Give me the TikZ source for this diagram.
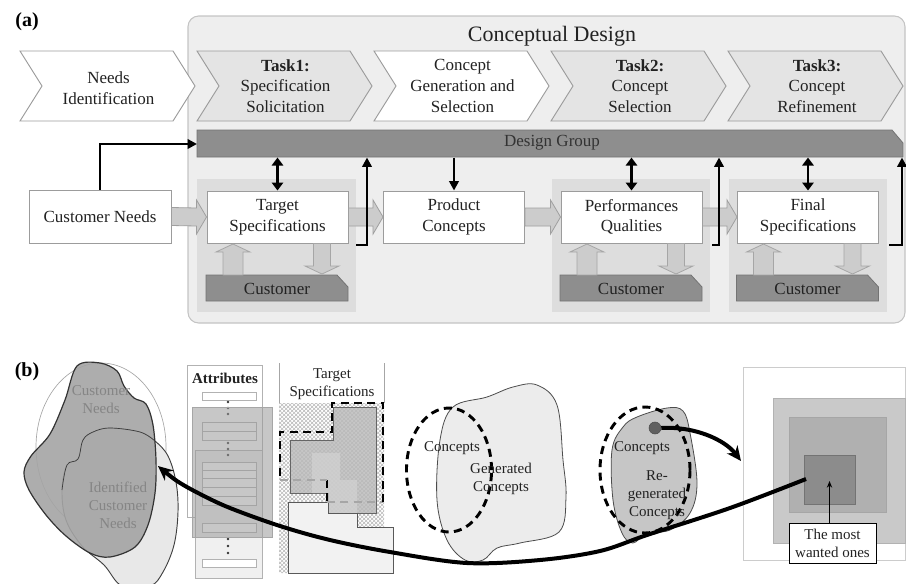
\documentclass[tikz,border=0pt]{standalone}
\usepackage{fontspec}
\setmainfont{Liberation Serif}
\usetikzlibrary{arrows.meta,calc,patterns}
\definecolor{txt}{HTML}{222222}
\definecolor{cdfill}{HTML}{EEEEEE}
\definecolor{cdedge}{HTML}{C4C4C4}
\definecolor{chevg}{HTML}{E4E4E4}
\definecolor{chevedge}{HTML}{9C9C9C}
\definecolor{grpfill}{HTML}{DDDDDD}
\definecolor{barfill}{HTML}{8E8E8E}
\definecolor{arrfill}{HTML}{CCCCCC}
\definecolor{blobdark}{HTML}{A4A4A4}
\definecolor{blobtxt}{HTML}{858585}
\newcommand\fatarr[2]{\draw[fat] ($(#1.east)+(0,-9)$) -- ($(#2.west)+(-10,-9)$) -- ($(#2.west)+(-10,-17)$) -- (#2.west) -- ($(#2.west)+(-10,17)$) -- ($(#2.west)+(-10,9)$) -- ($(#1.east)+(0,9)$) -- cycle;}
\begin{document}
\begin{tikzpicture}[x=0.75pt,y=-0.75pt,
  lab/.style={font=\fontsize{15}{17}\selectfont\bfseries, text=black},
  chev/.style={draw=chevedge, line width=0.7pt},
  chevtxt/.style={align=center, text=txt, font=\fontsize{12.75}{15.5}\selectfont},
  box/.style={draw=chevedge, fill=white, line width=0.7pt, minimum width=105.75pt, minimum height=39pt, align=center, inner sep=0pt, text=txt, font=\fontsize{12.75}{15.5}\selectfont},
  fat/.style={draw=gray!75, fill=arrfill, line width=0.6pt},
  hollow/.style={draw=gray!70, fill=arrfill, line width=0.6pt},
  cbar/.style={draw=gray!90!black, fill=barfill, line width=0.6pt},
  ctxt/.style={text=txt, font=\fontsize{12.75}{15.5}\selectfont},
  blk/.style={line width=2.2pt, -{Triangle[length=7pt,width=7pt]}},
  dbl/.style={line width=2.2pt, {Triangle[length=6pt,width=8.5pt]}-{Triangle[length=6pt,width=8.5pt]}},
  btxt/.style={align=center, text=txt, font=\fontsize{11.25}{13.5}\selectfont},
  bigarr/.style={line width=3pt, -{Stealth[length=11pt,width=10pt]}},
  tsdash/.style={line width=2.2pt, dash pattern=on 6pt off 4pt}
]
\useasboundingbox (0,0) rectangle (906,583);
% ================= (a) =================
\node[lab] (la) at (27,22) {(a)};
\draw[draw=cdedge, fill=cdfill, line width=0.8pt, rounded corners=8pt] (188,16) rectangle (905,323);
\node[text=txt, font=\fontsize{16.5}{19}\selectfont] (cdt) at (552,36) {Conceptual Design};
\foreach \x/\c in {20/white,197/chevg,374/white,551/chevg,728/chevg}
  \draw[chev, fill=\c] (\x,51) -- ({\x+153},51) -- ({\x+175},86) -- ({\x+153},121) -- (\x,121) -- ({\x+22},86) -- cycle;
\node[chevtxt] (c1) at (108.5,88) {Needs\\Identification};
\node[chevtxt] (c2) at (285.5,86) {\textbf{Task1:}\\Specification\\Solicitation};
\node[chevtxt] (c3) at (462.5,86) {Concept\\Generation and\\Selection};
\node[chevtxt] (c4) at (640,86) {\textbf{Task2:}\\Concept\\Selection};
\node[chevtxt] (c5) at (817,86) {\textbf{Task3:}\\Concept\\Refinement};
% customer groups
\fill[grpfill] (197,179) rectangle (356,312);
\fill[grpfill] (552,179) rectangle (710,312);
\fill[grpfill] (729,179) rectangle (887,312);
% design group bar
\draw[cbar] (197,130) -- (892,130) -- (903,143) -- (903,157) -- (197,157) -- cycle;
\node[text=black!80, font=\fontsize{12.75}{15.5}\selectfont] (dg) at (552,143) {Design Group};
% boxes
\node[box, minimum width=106.5pt, minimum height=39.75pt] (cn) at (100,216.5) {Customer Needs};
\node[box] (ts) at (277.5,217) {Target\\Specifications};
\node[box] (pc) at (454,217) {Product\\Concepts};
\node[box] (pq) at (631.5,217) {Performances\\Qualities};
\node[box] (fs) at (808,217) {Final\\Specifications};
\fatarr{cn}{ts}
\fatarr{ts}{pc}
\fatarr{pc}{pq}
\fatarr{pq}{fs}
% customer bars and arrows
\foreach \n/\x in {ts/207,pq/561,fs/737.5}{
  \draw[cbar] ({\x-1},275) -- ({\x+130},275) -- ({\x+141},287) -- ({\x+141},301) -- ({\x-1},301) -- cycle;
  \node[ctxt] (cu-\n) at ({\x+70},288.5) {Customer};
  \draw[hollow] ({\x+16},275) -- ({\x+16},252) -- ({\x+9},252) -- ({\x+26},244) -- ({\x+43},252) -- ({\x+36},252) -- ({\x+36},275) -- cycle;
  \draw[hollow] ({\x+106.5},243.5) -- ({\x+106.5},266) -- ({\x+98},266) -- ({\x+115},274) -- ({\x+132},266) -- ({\x+123.5},266) -- ({\x+123.5},243.5) -- cycle;
  \draw[dbl] (\n.north) -- ++(0,-33);
}
\coordinate (dgpc) at (454,157.5);
\draw[blk] (dgpc) -- (pc.north);
\coordinate (dgin) at (197,144);
\draw[blk, rounded corners=0pt] (cn.north) |- (dgin);
\coordinate (b1) at (356,245); \coordinate (b1t) at (367,157.5);
\coordinate (b2) at (712,245); \coordinate (b2t) at (719,157.5);
\coordinate (b3) at (889,245); \coordinate (b3t) at (902,157.5);
\draw[blk] (b1) -| (b1t);
\draw[blk] (b2) -| (b2t);
\draw[blk] (b3) -| (b3t);
% ================= (b) =================
\node[lab] (lb) at (27,372) {(b)};
% left blobs
\draw[gray!70, line width=0.5pt] (101,447) ellipse (48.75pt and 63pt);
\draw[fill=gray!18, draw=black!75, line width=0.7pt] plot[smooth cycle, tension=0.6] coordinates {(83,440) (93,432) (110,428) (140,432) (155,441) (168,456) (176,482) (178,512) (174,545) (163,572) (150,586) (122,586) (104,565) (82,546) (66,520) (62,490) (67,465) (78,459)};
\draw[fill=blobdark, fill opacity=0.9, draw=black!80, line width=0.9pt] plot[smooth cycle, tension=0.55] coordinates {(77,366) (100,363) (117,371) (124,386) (134,398) (146,404) (153,425) (156,460) (155,493) (148,525) (135,547) (110,557) (90,553) (66,536) (46,515) (29,490) (24,472) (31,456) (50,434) (65,400)};
\draw[gray!45!black, line width=0.5pt] plot[smooth, tension=0.6] coordinates {(62,490) (67,465) (78,459) (83,440) (93,432) (110,428) (140,432) (155,441)};
\node[btxt, text=blobtxt] (cnb) at (101,400) {Customer\\Needs};
\node[btxt, text=blobtxt] (icn) at (118,505) {Identified\\Customer\\Needs};
% attributes panel
\draw[gray!60, fill=white, line width=0.6pt] (187,365) rectangle (262,517);
\node[font=\fontsize{11.25}{13.5}\selectfont\bfseries, text=txt] (attr) at (225,378) {Attributes};
\fill[gray!12] (195,450) rectangle (262,578);
\draw[gray!60, line width=0.5pt] (195,450) rectangle (262,578);
\foreach \ya/\yb in {392/400, 422/431, 431/440, 462/470, 470/478, 478/487, 487/496, 496/505, 523/532, 559/567}
  \draw[gray!60, fill=white, line width=0.5pt] (202,\ya) rectangle (256,\yb);
\foreach \y in {402,408,414,443,449,455,539,546,553}
  \fill[black!80] (228,\y) circle (1.1pt);
\fill[gray!80, fill opacity=0.55] (192,407) rectangle (272,537);
\draw[gray!70, line width=0.4pt] (192,407) rectangle (272,537);
% target specifications panel
\draw[gray!70, line width=0.6pt] (279,363) -- (279,403);
\draw[gray!70, line width=0.6pt] (384,363) -- (384,403);
\node[btxt] (tsb) at (332,384) {Target\\Specifications};
\fill[white] (279,403) -- (384,403) -- (384,527) -- (288,527) -- (288,573) -- (279,573) -- cycle;
\fill[pattern=crosshatch, pattern color=gray!55] (279,403) -- (384,403) -- (384,527) -- (288,527) -- (288,573) -- (279,573) -- cycle;
\draw[fill=gray!55, fill opacity=0.8, draw=black!60, line width=0.6pt] (333,407) -- (376,407) -- (376,513) -- (328,513) -- (328,493) -- (290,493) -- (290,440) -- (333,440) -- cycle;
\fill[gray!35, fill opacity=0.7] (312,453) -- (340,453) -- (340,480) -- (357,480) -- (357,513) -- (328,513) -- (328,493) -- (312,493) -- cycle;
\draw[fill=gray!10, draw=black!65, line width=0.6pt] (288,502) -- (328,502) -- (328,513) -- (357,513) -- (357,527) -- (393,527) -- (393,573) -- (288,573) -- cycle;
\draw[tsdash] (327,480) -- (327,502);
\draw[tsdash, gray!70] (327,502) -- (383,502);
\draw[tsdash] (383,502) -- (383,403) -- (332,403) -- (332,432) -- (280,432) -- (280,480);
\draw[tsdash, gray!70] (280,480) -- (327,480);
% generated concepts
\draw[fill=gray!15, draw=black!70, line width=0.6pt] plot[smooth cycle, tension=0.6] coordinates {(453,407) (487,397) (513,387) (537,385) (557,405) (563,460) (566,497) (559,532) (520,543) (497,548) (483,560) (465,560) (447,540) (437,500) (440,440)};
\draw[tsdash] (449,470) ellipse (31.9pt and 46.5pt);
\node[btxt] (cpt1) at (452,448) {Concepts};
\node[btxt] (gcpt) at (501,479) {Generated\\Concepts};
% re-generated concepts
\draw[fill=gray!45, draw=black!70, line width=0.6pt] plot[smooth cycle, tension=0.6] coordinates {(637,417) (667,408) (683,411) (690,433) (697,483) (690,513) (670,530) (647,533) (633,543) (622,533) (613,500) (612,450) (623,427)};
\draw[tsdash] (645,470) ellipse (33.75pt and 47.25pt);
\node[btxt] (cpt2) at (642,448) {Concepts};
\node[btxt] (rgc) at (657,495) {Re-\\generated\\Concepts};
\node[circle, fill=gray!75!black, draw=gray!60!black, inner sep=0pt, minimum size=9pt] (rdot) at (655,428) {};
% right panel
\draw[gray!40, line width=0.5pt] (743,367) rectangle (905.5,560);
\draw[fill=gray!42, draw=gray!60, line width=0.5pt] (773,398) rectangle (905,543);
\draw[fill=gray!62, draw=gray!70, line width=0.5pt] (789,417) rectangle (886,512);
\draw[fill=gray!90, draw=gray!90!black, line width=0.5pt] (804,455) rectangle (855,504);
\node[draw=black, fill=white, line width=0.7pt, minimum width=65.25pt, minimum height=30pt, align=center, inner sep=0pt, text=txt, font=\fontsize{11.25}{13.5}\selectfont] (mw) at (832.5,543) {The most\\wanted ones};
\draw[line width=0.7pt, -{Stealth[length=5pt,width=4pt]}] (829.5,523) -- (829.5,481);
% curves
\coordinate (cstart) at (806,479);
\coordinate (cend) at (158,466);
\draw[bigarr] plot[smooth, tension=0.55] coordinates {(cstart) (730,508) (647,535) (600,551) (540,560) (467,563) (390,552) (330,540) (280,526) (230,508) (200,494) (177,481) (cend)};
\coordinate (dotend) at (741,461);
\draw[bigarr] (rdot.east) .. controls (695,426) and (725,440) .. (dotend);
\end{tikzpicture}
\end{document}
